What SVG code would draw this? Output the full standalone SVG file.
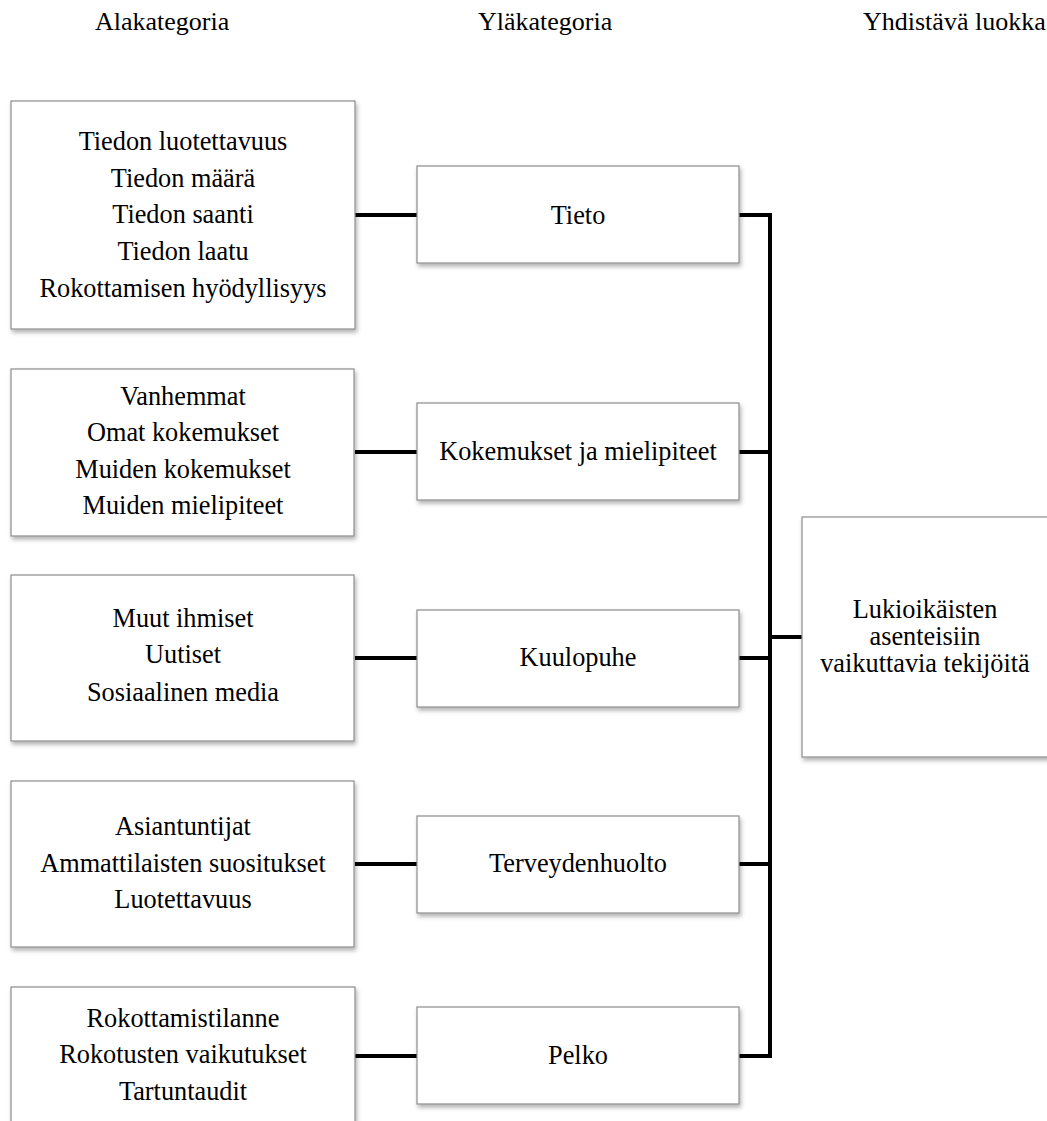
<svg xmlns="http://www.w3.org/2000/svg" width="1047" height="1121" viewBox="0 0 1047 1121">
<style>
  .box { fill: #ffffff; stroke: #8c8c8c; stroke-width: 1.2; filter: url(#sh); }
  .t { font-family: 'Liberation Serif', 'Times New Roman', serif; font-size: 26.3px; fill: #000; text-anchor: middle; }
  .h { font-family: 'Liberation Serif', 'Times New Roman', serif; font-size: 26px; fill: #000; }
  .c { fill: none; stroke: #000; stroke-width: 4; stroke-linejoin: miter; }
</style>
<defs>
  <filter id="sh" x="-5%" y="-5%" width="115%" height="120%">
    <feDropShadow dx="1.5" dy="3" stdDeviation="2" flood-color="#000" flood-opacity="0.3"/>
  </filter>
</defs>
<rect width="1047" height="1121" fill="#ffffff"/>

<g id="headers">
  <text class="h" x="95" y="30">Alakategoria</text>
  <text class="h" x="478" y="30">Yläkategoria</text>
  <text class="h" x="863" y="30">Yhdistävä luokka</text>
</g>

<g id="connectors">
  <line class="c" x1="355" y1="215" x2="417" y2="215"/>
  <line class="c" x1="355" y1="452" x2="417" y2="452"/>
  <line class="c" x1="355" y1="658" x2="417" y2="658"/>
  <line class="c" x1="355" y1="864" x2="417" y2="864"/>
  <line class="c" x1="355" y1="1056" x2="417" y2="1056"/>
  <path class="c" d="M739 215 H770 V1056 H739"/>
  <line class="c" x1="739" y1="452" x2="770" y2="452"/>
  <line class="c" x1="739" y1="658" x2="770" y2="658"/>
  <line class="c" x1="739" y1="864" x2="770" y2="864"/>
  <line class="c" x1="770" y1="637" x2="802" y2="637"/>
</g>

<g id="sub-tieto">
  <rect class="box" x="11" y="101" width="344" height="228"/>
  <text class="t" x="183" y="150">Tiedon luotettavuus</text>
  <text class="t" x="183" y="187">Tiedon määrä</text>
  <text class="t" x="183" y="223">Tiedon saanti</text>
  <text class="t" x="183" y="260">Tiedon laatu</text>
  <text class="t" x="183" y="297">Rokottamisen hyödyllisyys</text>
</g>
<g id="sub-kokemukset">
  <rect class="box" x="11" y="369" width="343" height="167"/>
  <text class="t" x="183" y="405">Vanhemmat</text>
  <text class="t" x="183" y="441">Omat kokemukset</text>
  <text class="t" x="183" y="478">Muiden kokemukset</text>
  <text class="t" x="183" y="514">Muiden mielipiteet</text>
</g>
<g id="sub-kuulopuhe">
  <rect class="box" x="11" y="575" width="343" height="166"/>
  <text class="t" x="183" y="627">Muut ihmiset</text>
  <text class="t" x="183" y="663">Uutiset</text>
  <text class="t" x="183" y="701">Sosiaalinen media</text>
</g>
<g id="sub-terveydenhuolto">
  <rect class="box" x="11" y="781" width="343" height="166"/>
  <text class="t" x="183" y="835">Asiantuntijat</text>
  <text class="t" x="183" y="872">Ammattilaisten suositukset</text>
  <text class="t" x="183" y="908">Luotettavuus</text>
</g>
<g id="sub-pelko">
  <rect class="box" x="11" y="987" width="344" height="150"/>
  <text class="t" x="183" y="1027">Rokottamistilanne</text>
  <text class="t" x="183" y="1063">Rokotusten vaikutukset</text>
  <text class="t" x="183" y="1100">Tartuntaudit</text>
</g>

<g id="tieto">
  <rect class="box" x="417" y="166" width="322" height="97"/>
  <text class="t" x="578" y="224">Tieto</text>
</g>
<g id="kokemukset">
  <rect class="box" x="417" y="403" width="322" height="97"/>
  <text class="t" x="578" y="460">Kokemukset ja mielipiteet</text>
</g>
<g id="kuulopuhe">
  <rect class="box" x="417" y="610" width="322" height="97"/>
  <text class="t" x="578" y="666">Kuulopuhe</text>
</g>
<g id="terveydenhuolto">
  <rect class="box" x="417" y="816" width="322" height="97"/>
  <text class="t" x="578" y="872">Terveydenhuolto</text>
</g>
<g id="pelko">
  <rect class="box" x="417" y="1007" width="322" height="97"/>
  <text class="t" x="578" y="1064">Pelko</text>
</g>

<g id="yhdistava">
  <rect class="box" x="802" y="517" width="250" height="240"/>
  <text class="t" x="925" y="618">Lukioikäisten</text>
  <text class="t" x="925" y="645">asenteisiin</text>
  <text class="t" x="925" y="672">vaikuttavia tekijöitä</text>
</g>
</svg>
